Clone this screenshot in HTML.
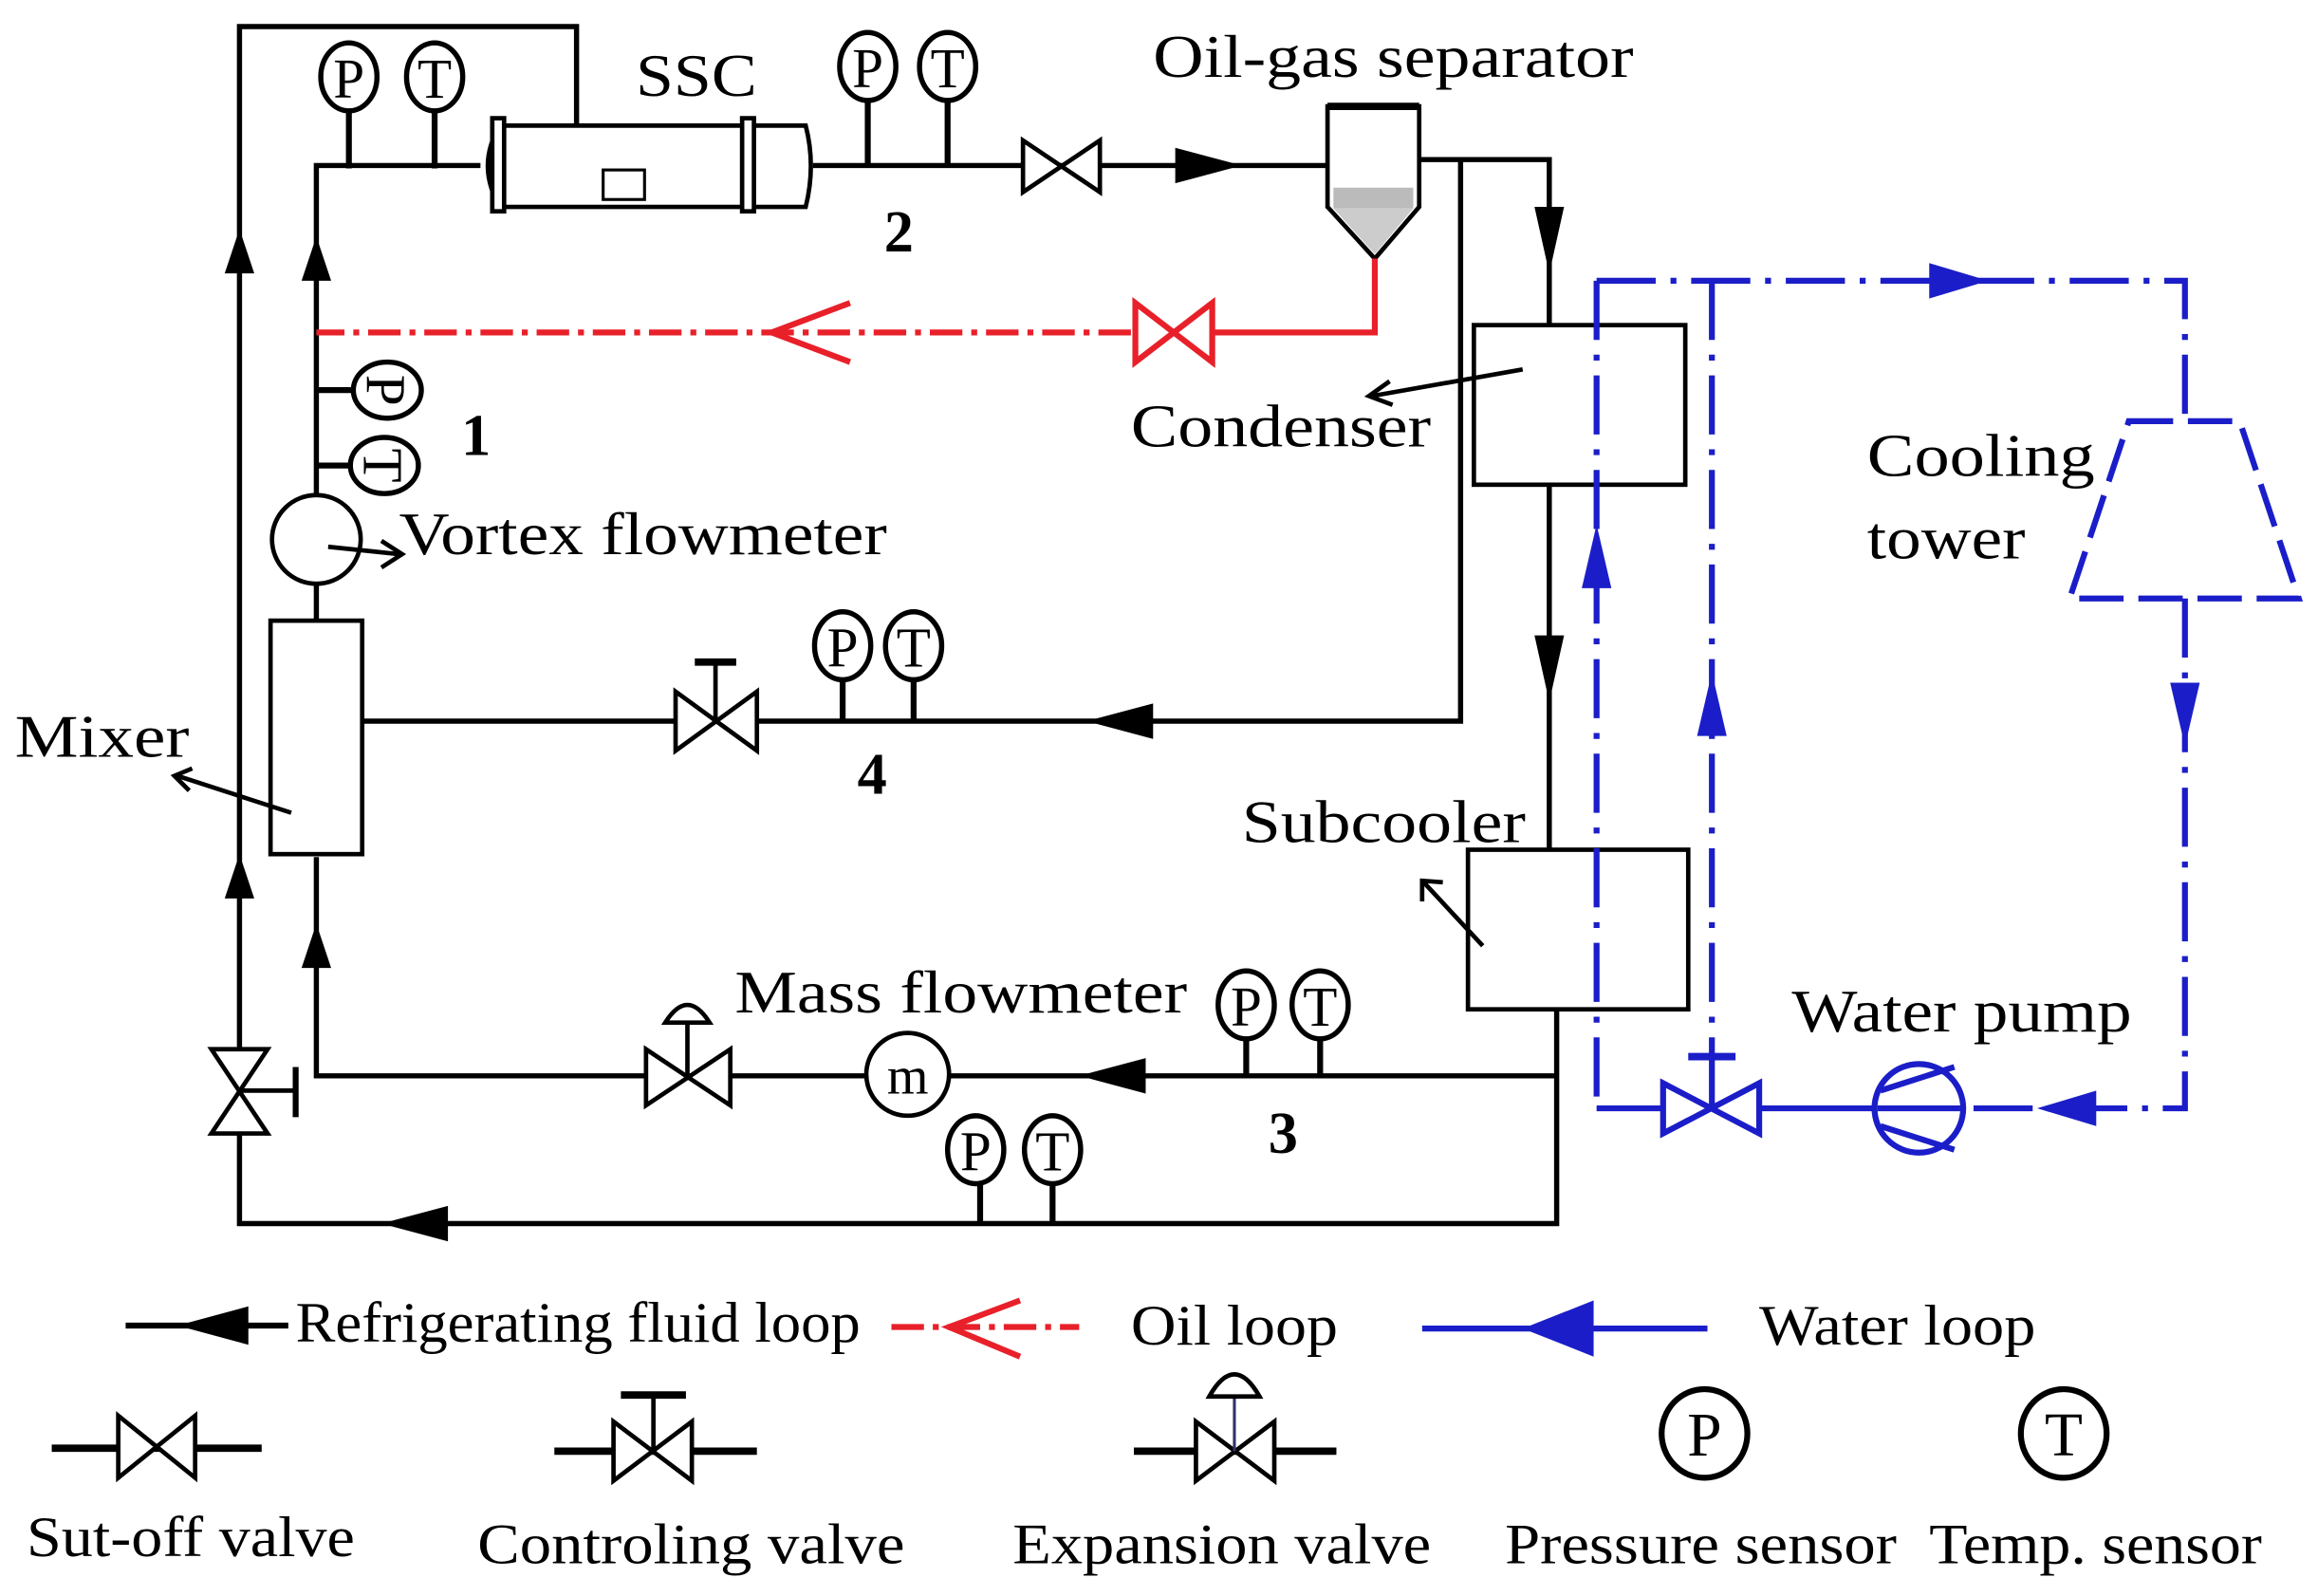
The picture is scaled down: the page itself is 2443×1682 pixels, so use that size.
<!DOCTYPE html>
<html><head><meta charset="utf-8"><style>
html,body{margin:0;padding:0;background:#fff;}
svg{display:block;}
text{font-family:"Liberation Serif",serif;fill:#000;}
</style></head><body>
<svg width="2443" height="1682" viewBox="0 0 1568 1080" preserveAspectRatio="none" xmlns="http://www.w3.org/2000/svg">
<defs>
<g id="P"><ellipse cx="0" cy="0" rx="19" ry="23" fill="#fff" stroke="#000" stroke-width="3.5"/><text x="0" y="14" font-size="38" text-anchor="middle">P</text></g>
<g id="T"><ellipse cx="0" cy="0" rx="19" ry="23" fill="#fff" stroke="#000" stroke-width="3.5"/><text x="0" y="14" font-size="38" text-anchor="middle">T</text></g>
</defs>
<g fill="none" stroke="#000" stroke-width="3.5">
<polyline points="390,85 390,18 162,18 162,828 1053,828 1053,683"/>
<polyline points="325,112 214,112 214,335"/>
<line x1="214" y1="395" x2="214" y2="420"/>
<polyline points="214,580 214,728 1053,728"/>
<line x1="550" y1="112" x2="898" y2="112"/>
<polyline points="960,108 988,108 988,488 245,488"/>
<polyline points="988,108 1048,108 1048,220"/>
<line x1="1048" y1="328" x2="1048" y2="575"/>
<g stroke-width="4">
<line x1="236" y1="72" x2="236" y2="114"/><line x1="294" y1="72" x2="294" y2="114"/>
<line x1="587" y1="65" x2="587" y2="112"/><line x1="641" y1="65" x2="641" y2="112"/>
<line x1="214" y1="264" x2="240" y2="264"/><line x1="214" y1="315" x2="240" y2="315"/>
<line x1="570" y1="457" x2="570" y2="488"/><line x1="618" y1="457" x2="618" y2="488"/>
<line x1="843" y1="700" x2="843" y2="728"/><line x1="893" y1="700" x2="893" y2="728"/>
<line x1="663" y1="798" x2="663" y2="828"/><line x1="712" y1="798" x2="712" y2="828"/>
</g>
</g>
<g stroke="#000" stroke-width="3" fill="#fff">
<path d="M340,85 L545,85 Q552,112 545,140 L340,140 Z"/>
<path d="M340,82 Q320,112 340,143"/>
<rect x="333" y="80" width="8" height="63"/>
<rect x="502" y="80" width="8" height="63"/>
<rect x="408" y="115" width="28" height="20" stroke-width="2"/>
<rect x="997" y="220" width="143" height="108"/>
<rect x="993" y="575" width="149" height="108"/>
<rect x="183" y="420" width="62" height="158"/>
<circle cx="214" cy="365" r="30"/>
<circle cx="614" cy="727" r="28"/>
<path d="M898,72 L960,72 L960,140 L930,175 L898,140 Z"/>
</g>
<rect x="902" y="127" width="54" height="14" fill="#bbb"/>
<path d="M902,141 L956,141 L930,172 Z" fill="#ccc"/>
<line x1="898" y1="72" x2="960" y2="72" stroke="#000" stroke-width="5"/>
<text x="614" y="740" font-size="36" text-anchor="middle">m</text>
<g stroke="#000" stroke-width="3" fill="#fff">
<path d="M692,95 L692,130 L744,95 L744,130 Z"/>
<path d="M457,468 L457,508 L512,468 L512,508 Z"/>
<line x1="484" y1="488" x2="484" y2="448"/><line x1="470" y1="448" x2="498" y2="448" stroke-width="5"/>
<path d="M437,710 L437,748 L494,710 L494,748 Z"/>
<line x1="465" y1="728" x2="465" y2="692"/><path d="M450,692 Q465,668 480,692 Z"/>
<path d="M143,710 L181,710 L143,767 L181,767 Z"/>
<line x1="162" y1="738" x2="200" y2="738"/><line x1="200" y1="722" x2="200" y2="756" stroke-width="4"/>
</g>
<use href="#P" x="236" y="52"/><use href="#T" x="294" y="52"/>
<use href="#P" x="587" y="45"/><use href="#T" x="641" y="45"/>
<g transform="translate(262,264) rotate(90)"><use href="#P"/></g>
<g transform="translate(260,315) rotate(90)"><use href="#T"/></g>
<use href="#P" x="570" y="437"/><use href="#T" x="618" y="437"/>
<use href="#P" x="843" y="680"/><use href="#T" x="893" y="680"/>
<use href="#P" x="660" y="778"/><use href="#T" x="712" y="778"/>
<g fill="#000">
<path d="M162,155 L152,185 L172,185 Z"/><path d="M162,578 L152,608 L172,608 Z"/>
<path d="M214,160 L204,190 L224,190 Z"/><path d="M214,625 L204,655 L224,655 Z"/>
<path d="M840,112 L795,100 L795,124 Z"/>
<path d="M1048,185 L1038,140 L1058,140 Z"/><path d="M1048,475 L1038,430 L1058,430 Z"/>
<path d="M735,488 L780,476 L780,500 Z"/><path d="M730,728 L775,716 L775,740 Z"/>
<path d="M258,828 L303,816 L303,840 Z"/>
</g>
<g stroke="#000" stroke-width="3" fill="none">
<line x1="1030" y1="250" x2="928" y2="268"/><path d="M940,258 L926,268 L942,274"/>
<line x1="222" y1="370" x2="270" y2="375"/><path d="M258,366 L272,375 L258,384"/>
<line x1="197" y1="550" x2="120" y2="525"/><path d="M130,520 L118,525 L128,535"/>
<line x1="1003" y1="640" x2="963" y2="597"/><path d="M962,610 L962,596 L976,597"/>
</g>
<g stroke="#e8202a" stroke-width="4" fill="none">
<polyline points="930,175 930,225 820,225"/>
<line x1="765" y1="225" x2="214" y2="225" stroke-dasharray="22,6,4,6"/>
<path d="M768,205 L768,245 L820,205 L820,245 Z" fill="#fff"/>
<path d="M575,205 L522,225 L575,245"/>
</g>
<g stroke="#1b1ec8" stroke-width="4" fill="none">
<polyline points="1080,190 1478,190 1478,285" stroke-dasharray="40,10,4,10"/>
<line x1="1080" y1="190" x2="1080" y2="750" stroke-dasharray="40,10,4,10"/>
<line x1="1158" y1="190" x2="1158" y2="715" stroke-dasharray="40,10,4,10"/>
<polyline points="1478,405 1478,750 1328,750" stroke-dasharray="40,10,4,10"/>
<polyline points="1080,750 1125,750"/><line x1="1190" y1="750" x2="1268" y2="750"/>
<path d="M1440,285 L1515,285 L1555,405 L1400,405 Z" stroke-dasharray="30,10"/>
<path d="M1125,733 L1125,767 L1190,733 L1190,767 Z" fill="#fff"/>
<line x1="1158" y1="750" x2="1158" y2="715"/><line x1="1142" y1="715" x2="1174" y2="715" stroke-width="5"/>
<circle cx="1298" cy="750" r="30" fill="#fff"/>
<path d="M1272,738 L1322,722 M1272,762 L1322,778 M1270,750 L1326,750"/>
</g>
<g fill="#1b1ec8">
<path d="M1345,190 L1305,178 L1305,202 Z"/>
<path d="M1080,355 L1070,398 L1090,398 Z"/><path d="M1158,455 L1148,498 L1168,498 Z"/>
<path d="M1478,505 L1468,462 L1488,462 Z"/><path d="M1378,750 L1418,738 L1418,762 Z"/>
</g>
<g font-size="41" lengthAdjust="spacingAndGlyphs">
<text x="430" y="65" textLength="82" lengthAdjust="spacingAndGlyphs">SSC</text>
<text x="780" y="52" textLength="325" lengthAdjust="spacingAndGlyphs">Oil-gas separator</text>
<text x="765" y="302" textLength="203" lengthAdjust="spacingAndGlyphs">Condenser</text>
<text x="1263" y="322" textLength="154" lengthAdjust="spacingAndGlyphs">Cooling</text>
<text x="1263" y="378" textLength="107" lengthAdjust="spacingAndGlyphs">tower</text>
<text x="270" y="375" textLength="330" lengthAdjust="spacingAndGlyphs">Vortex flowmeter</text>
<text x="10" y="512" textLength="118" lengthAdjust="spacingAndGlyphs">Mixer</text>
<text x="840" y="570" textLength="192" lengthAdjust="spacingAndGlyphs">Subcooler</text>
<text x="497" y="685" textLength="306" lengthAdjust="spacingAndGlyphs">Mass flowmeter</text>
<text x="1212" y="698" textLength="230" lengthAdjust="spacingAndGlyphs">Water pump</text>
</g>
<g font-size="40" font-weight="bold">
<text x="598" y="170">2</text><text x="312" y="308">1</text>
<text x="580" y="537">4</text><text x="858" y="780">3</text>
</g>
<line x1="85" y1="897" x2="195" y2="897" stroke="#000" stroke-width="4"/>
<path d="M120,897 L168,884 L168,910 Z" fill="#000"/>
<text x="200" y="908" font-size="39" textLength="382" lengthAdjust="spacingAndGlyphs">Refrigerating fluid loop</text>
<line x1="603" y1="898" x2="730" y2="898" stroke="#e8202a" stroke-width="4" stroke-dasharray="22,6,4,6"/>
<path d="M690,880 L642,898 L690,918" stroke="#e8202a" stroke-width="4" fill="none"/>
<text x="765" y="910" font-size="39" textLength="140" lengthAdjust="spacingAndGlyphs">Oil loop</text>
<line x1="962" y1="899" x2="1155" y2="899" stroke="#1b1ec8" stroke-width="4"/>
<path d="M1030,899 L1078,880 L1078,918 Z" fill="#1b1ec8"/>
<text x="1190" y="910" font-size="39" textLength="187" lengthAdjust="spacingAndGlyphs">Water loop</text>
<g stroke="#000" stroke-width="3" fill="#fff">
<line x1="35" y1="980" x2="177" y2="980" stroke-width="5"/>
<path d="M80,958 L80,1000 L132,958 L132,1000 Z"/>
<line x1="375" y1="982" x2="512" y2="982" stroke-width="5"/>
<path d="M415,962 L415,1002 L468,962 L468,1002 Z"/>
<line x1="442" y1="982" x2="442" y2="944"/><line x1="420" y1="944" x2="464" y2="944" stroke-width="5"/>
<line x1="767" y1="982" x2="904" y2="982" stroke-width="5"/>
<path d="M809,962 L809,1002 L862,962 L862,1002 Z"/>
<line x1="835" y1="982" x2="835" y2="945" stroke="#336" stroke-width="2"/>
<path d="M818,945 Q835,915 852,945 Z"/>
</g>
<g stroke="#000" stroke-width="4" fill="#fff">
<ellipse cx="1153" cy="970" rx="29" ry="30"/><ellipse cx="1396" cy="970" rx="29" ry="30"/>
</g>
<text x="1153" y="985" font-size="42" text-anchor="middle">P</text>
<text x="1396" y="985" font-size="42" text-anchor="middle">T</text>
<g font-size="39">
<text x="18" y="1053" textLength="222" lengthAdjust="spacingAndGlyphs">Sut-off valve</text>
<text x="323" y="1058" textLength="289" lengthAdjust="spacingAndGlyphs">Controling valve</text>
<text x="685" y="1058" textLength="283" lengthAdjust="spacingAndGlyphs">Expansion valve</text>
<text x="1018" y="1058" textLength="265" lengthAdjust="spacingAndGlyphs">Pressure sensor</text>
<text x="1305" y="1058" textLength="225" lengthAdjust="spacingAndGlyphs">Temp. sensor</text>
</g>
</svg>
</body></html>
